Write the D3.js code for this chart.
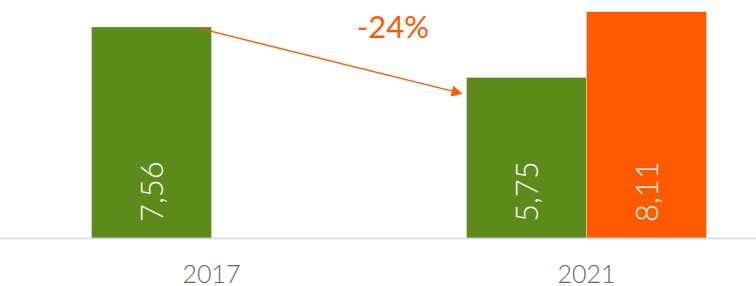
<!DOCTYPE html>
<html>
<head>
<meta charset="utf-8">
<script src="https://cdn.jsdelivr.net/npm/d3@7"></script>
<style>
  html, body { margin: 0; padding: 0; background: #fff; }
  svg { display: block; font-family: Lato, "Open Sans", sans-serif; }
</style>
</head>
<body>
<div id="chart"></div>
<script>
// Chart data
const years = ['2017', '2021'];
const seriesNames = ['green', 'orange'];
const greenValues = [7.56, 5.75];
const orangeValues = [null, 8.11];
const changeLabel = '-24%';

const width = 756;
const height = 286;
const baseline = 238;

const colors = { green: '#5c8a1b', orange: '#ff5a00' };

const svg = d3.select('#chart')
    .append('svg')
    .attr('width', width)
    .attr('height', height);

// Scales
const x0 = d3.scaleBand()
    .domain(years)
    .range([24, 774])
    .paddingInner(0.36)
    .paddingOuter(0.18);

const x1 = d3.scaleBand()
    .domain(seriesNames)
    .range([0, x0.bandwidth()])
    .padding(0);

const y = d3.scaleLinear()
    .domain([0, 8.11])
    .range([baseline, 11.6]);

const rows = years.map((yr, i) => ({
    year: yr,
    values: [
        { key: 'green', value: greenValues[i] },
        { key: 'orange', value: orangeValues[i] }
    ].filter(d => d.value != null)
}));

// Bars
const group = svg.append('g')
    .selectAll('g')
    .data(rows)
    .enter()
    .append('g')
    .attr('transform', d => `translate(${x0(d.year)},0)`);

group.selectAll('rect')
    .data(d => d.values)
    .enter()
    .append('rect')
    .attr('x', d => x1(d.key))
    .attr('y', d => y(d.value))
    .attr('width', x1.bandwidth())
    .attr('height', d => baseline - y(d.value))
    .attr('fill', d => colors[d.key])
    .attr('stroke', '#fff')
    .attr('stroke-opacity', 0.4)
    .attr('stroke-width', 0.8);

// Value labels (rotated, inside bars)
group.selectAll('text')
    .data(d => d.values)
    .enter()
    .append('text')
    .attr('transform', d => `translate(${x1(d.key) + x1.bandwidth() / 2 + 11},${baseline - 16}) rotate(-90)`)
    .attr('fill', '#fff')
    .attr('font-size', '31px')
    .attr('font-weight', 300)
    .text(d => d3.format('.2f')(d.value).replace('.', ','));

// Axis line
svg.append('line')
    .attr('x1', 0)
    .attr('x2', width)
    .attr('y1', baseline + 0.5)
    .attr('y2', baseline + 0.5)
    .attr('stroke', '#d9d9d9')
    .attr('stroke-width', 1.5);

// Category labels
svg.append('g')
    .selectAll('text')
    .data(years)
    .enter()
    .append('text')
    .attr('x', d => x0(d) + x0.bandwidth() / 2)
    .attr('y', 283)
    .attr('text-anchor', 'middle')
    .attr('fill', '#666')
    .attr('font-size', '25px')
    .attr('font-weight', 300)
    .text(d => d);

// Change arrow from 2017 green bar to 2021 green bar
const defs = svg.append('defs');
defs.append('marker')
    .attr('id', 'arrow')
    .attr('viewBox', '0 0 10 10')
    .attr('refX', 9)
    .attr('refY', 5)
    .attr('markerWidth', 14)
    .attr('markerHeight', 11)
    .attr('markerUnits', 'userSpaceOnUse')
    .attr('orient', 'auto')
    .append('path')
    .attr('d', 'M0,0L10,5L0,10Z')
    .attr('fill', colors.orange);

const startX = x0('2017') + x1('green') + x1.bandwidth() - 10;
const startY = y(greenValues[0]) + 2;
const endX = x0('2021') + x1('green') - 5;
const endY = y(greenValues[1]) + 16;

svg.append('line')
    .attr('x1', startX)
    .attr('y1', startY)
    .attr('x2', endX)
    .attr('y2', endY)
    .attr('stroke', colors.orange)
    .attr('stroke-width', 1.3)
    .attr('marker-end', 'url(#arrow)');

svg.append('text')
    .attr('x', 393)
    .attr('y', 38)
    .attr('text-anchor', 'middle')
    .attr('fill', colors.orange)
    .attr('font-size', '31px')
    .text(changeLabel);
</script>
</body>
</html>
